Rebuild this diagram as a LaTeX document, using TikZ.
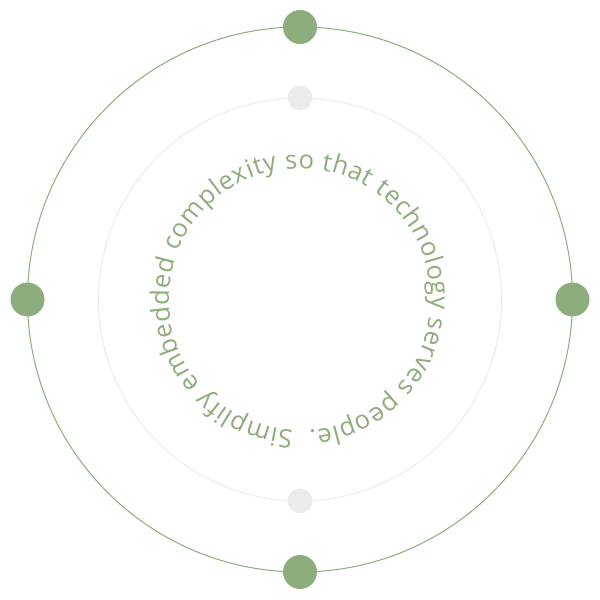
\documentclass[tikz,border=0pt]{standalone}
\usepackage{fontspec}
\setsansfont{Open Sans}
\usetikzlibrary{decorations.text, calc}
\definecolor{sage}{RGB}{141,173,125}
\definecolor{mist}{RGB}{236,236,236}
\tikzset{
	bigdot/.style={circle, fill=sage, inner sep=0pt, minimum size=34pt},
	smalldot/.style={circle, fill=mist, inner sep=0pt, minimum size=25pt}
}
\begin{document}
\begin{tikzpicture}[x=1pt, y=1pt, line join=round, line cap=round]
		\useasboundingbox[fill=white] (0,0) rectangle (600,600);
		\coordinate (c) at (300,300.5);
		\draw[sage, line width=1pt] (c) circle (272.5pt);
		\draw[mist, line width=1pt] (c) circle (201.5pt);
		\node[bigdot] (top) at ($(c)+(90:272.5)$) {};
		\node[bigdot] (bottom) at ($(c)+(-90:272.5)$) {};
		\node[bigdot] (left) at ($(c)+(180:272.5)$) {};
		\node[bigdot] (right) at ($(c)+(0:272.5)$) {};
		\node[smalldot] (intop) at ($(c)+(90:201.5)$) {};
		\node[smalldot] (inbottom) at ($(c)+(-90:201.5)$) {};
		\path[decorate, decoration={text along path, text align=fit to path,
			text={|\sffamily\fontsize{25.5}{30}\selectfont\color{sage}|Simplify embedded complexity so that technology serves people.}}]
			(c) ++(-93:131) arc[start angle=-93, end angle=-446, radius=131];
	\end{tikzpicture}
\end{document}
